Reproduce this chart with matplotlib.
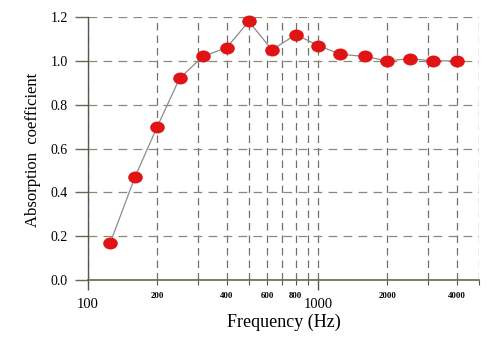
import matplotlib
matplotlib.use("Agg")
from matplotlib import pyplot as plt
from matplotlib.path import Path
from matplotlib.transforms import Affine2D
from matplotlib.ticker import FixedLocator, FuncFormatter

# one-third octave band centres and measured absorption
freqs = [125, 160, 200, 250, 315, 400, 500, 630, 800, 1000, 1250, 1600, 2000, 2500, 3150, 4000]
alpha = [0.17, 0.47, 0.70, 0.92, 1.02, 1.06, 1.18, 1.05, 1.12, 1.07, 1.03, 1.02, 1.00, 1.01, 1.00, 1.00]

yticks = [0.0, 0.2, 0.4, 0.6, 0.8, 1.0, 1.2]
major_x = [100, 1000]
minor_x = [200, 300, 400, 500, 600, 700, 800, 900, 2000, 3000, 4000, 5000]
minor_labelled = [200, 400, 600, 800, 2000, 4000]

plt.rcParams['font.family'] = ['Liberation Serif', 'DejaVu Serif']

fig = plt.figure(figsize=(5, 3.38), dpi=100)
ax = fig.add_axes([0.176, 0.1716, 0.782, 0.778])

# slightly flattened dots
dot = Path.unit_circle().transformed(Affine2D().scale(1.0, 0.82))
ax.plot(freqs, alpha, color='#8c8c8c', lw=0.9, zorder=3, clip_on=False)
ax.plot(freqs, alpha, ls='none', marker=dot, markersize=10.5,
        color='#e01414', markeredgewidth=0, zorder=4, clip_on=False)

ax.set_xscale('log')
ax.set_xlim(100, 5000)
ax.set_ylim(0, 1.2)

ax.xaxis.set_major_locator(FixedLocator(major_x))
ax.xaxis.set_major_formatter(FuncFormatter(lambda v, p: '%d' % v))
ax.xaxis.set_minor_locator(FixedLocator(minor_x))
ax.xaxis.set_minor_formatter(FuncFormatter(
    lambda v, p: '%d' % v if int(round(v)) in minor_labelled else ''))
ax.set_yticks(yticks)
ax.set_yticklabels(['%.1f' % v for v in yticks])

ax.tick_params(axis='x', which='major', direction='out', length=7, width=1,
               color='#555555', labelsize=10.5, pad=6)
ax.tick_params(axis='x', which='minor', direction='out', length=3.5, width=0.8,
               color='#555555', labelsize=6.3, pad=5)
ax.tick_params(axis='y', which='major', direction='out', length=9.5, width=1,
               color='#666655', labelsize=10, pad=5)
plt.setp(ax.get_xminorticklabels(), fontweight='bold')

ax.grid(True, which='both', axis='x', color='#707070', lw=0.9, ls=(0, (6, 4)))
ax.grid(True, which='major', axis='y', color='#8a8a70', lw=0.9, ls=(0, (7, 5)))

for side in ['top', 'right']:
    ax.spines[side].set_visible(False)
ax.spines['left'].set_color('#555555')
ax.spines['bottom'].set_color('#666655')
ax.spines['left'].set_linewidth(1)
ax.spines['bottom'].set_linewidth(1.2)

ax.set_xlabel('Frequency (Hz)', fontsize=13, labelpad=2)
fig.text(0.066, 0.556, 'Absorption  coefficient', rotation=90,
         ha='center', va='center', fontsize=12)

fig.savefig('out.png', dpi=100)
